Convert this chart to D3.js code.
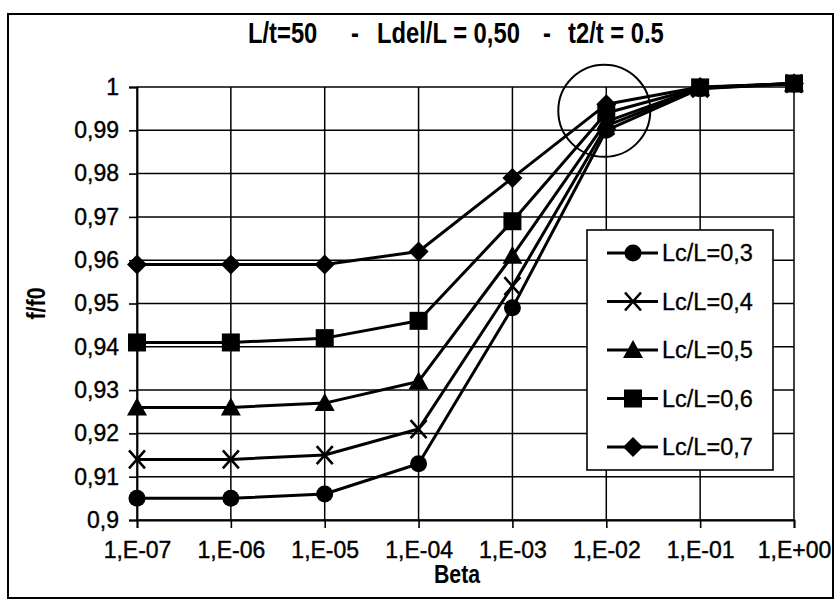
<!DOCTYPE html>
<html>
<head>
<meta charset="utf-8">
<script src="https://cdn.jsdelivr.net/npm/d3@7"></script>
<style>
  html, body { margin: 0; padding: 0; background: #fff; }
  svg { display: block; font-family: "Liberation Sans", Arial, sans-serif; }
</style>
</head>
<body>
<svg id="chart" width="836" height="604"></svg>
<script>
// ---- data ----
const betas = [1e-7, 1e-6, 1e-5, 1e-4, 1e-3, 1e-2, 1e-1, 1e0];
const xTickLabels = ["1,E-07", "1,E-06", "1,E-05", "1,E-04", "1,E-03", "1,E-02", "1,E-01", "1,E+00"];
const yTicks = [0.9, 0.91, 0.92, 0.93, 0.94, 0.95, 0.96, 0.97, 0.98, 0.99, 1];
const yTickLabels = ["0,9", "0,91", "0,92", "0,93", "0,94", "0,95", "0,96", "0,97", "0,98", "0,99", "1"];
const seriesNames = ["Lc/L=0,3", "Lc/L=0,4", "Lc/L=0,5", "Lc/L=0,6", "Lc/L=0,7"];
const seriesMarkers = ["circle", "cross", "triangle", "square", "diamond"];
const lc03 = [0.905, 0.905, 0.906, 0.913, 0.949, 0.990, 0.9996, 1.0008];
const lc04 = [0.914, 0.914, 0.915, 0.921, 0.954, 0.991, 0.9997, 1.0008];
const lc05 = [0.926, 0.926, 0.927, 0.932, 0.961, 0.992, 0.9998, 1.0008];
const lc06 = [0.941, 0.941, 0.942, 0.946, 0.969, 0.994, 0.9999, 1.0008];
const lc07 = [0.959, 0.959, 0.959, 0.962, 0.979, 0.996, 1.0000, 1.0008];
const seriesValues = [lc03, lc04, lc05, lc06, lc07];
const titleParts = ["L/t=50", "-", "Ldel/L = 0,50", "-", "t2/t = 0.5"];
const xTitle = "Beta";
const yTitle = "f/f0";
// highlighted region (circle annotation) in data units
const highlightBeta = 1e-2;
const highlightF = 0.9945;

// ---- layout ----
const svg = d3.select("#chart");
const pLeft = 137, pRight = 794, pTop = 87, pBottom = 520;
const x = d3.scaleLog().domain([1e-7, 1]).range([pLeft, pRight]);
const y = d3.scaleLinear().domain([0.9, 1]).range([pBottom, pTop]);
const narrow = 0.82; // condensed (Arial Narrow-like) headings

// outer frame
svg.append("rect").attr("x", 8).attr("y", 14).attr("width", 825).attr("height", 584)
  .attr("fill", "none").attr("stroke", "#000").attr("stroke-width", 2);

// title
const titleX = [248, 355, 377, 547, 568];
const titleAnchor = ["start", "middle", "start", "middle", "start"];
svg.append("g").selectAll("text").data(titleParts).join("text")
  .attr("transform", (d, i) => `translate(${titleX[i]},43) scale(${narrow},1)`)
  .attr("text-anchor", (d, i) => titleAnchor[i])
  .attr("font-size", 29).attr("font-weight", "bold")
  .text(d => d);

// gridlines
const grid = svg.append("g").attr("stroke", "#000").attr("stroke-width", 1.5);
grid.selectAll("line.h").data(yTicks).join("line").attr("class", "h")
  .attr("x1", pLeft).attr("x2", pRight).attr("y1", d => y(d)).attr("y2", d => y(d));
grid.selectAll("line.v").data(betas).join("line").attr("class", "v")
  .attr("x1", d => x(d)).attr("x2", d => x(d)).attr("y1", pTop).attr("y2", pBottom);

// axes
const yAxis = d3.axisLeft(y).tickValues(yTicks).tickSize(8).tickPadding(10)
  .tickFormat((d, i) => yTickLabels[i]);
const gy = svg.append("g").attr("transform", `translate(${pLeft},0)`).call(yAxis);
const xAxis = d3.axisBottom(x).tickValues(betas).tickSize(8).tickPadding(14)
  .tickFormat((d, i) => xTickLabels[i]);
const gx = svg.append("g").attr("transform", `translate(0,${pBottom})`).call(xAxis);
[gx, gy].forEach(g => {
  g.select(".domain").attr("stroke", "#000").attr("stroke-width", 1.8);
  g.selectAll(".tick line").attr("stroke", "#000").attr("stroke-width", 1.6);
  g.selectAll(".tick text").attr("font-size", 23).attr("fill", "#000")
    .attr("stroke", "#000").attr("stroke-width", 0.4)
    .attr("font-family", "Liberation Sans, Arial, sans-serif");
});

// axis titles
svg.append("text").attr("transform", `translate(457,583) scale(${narrow},1)`).attr("text-anchor", "middle")
  .attr("font-size", 26).attr("font-weight", "bold").text(xTitle);
svg.append("text").attr("transform", `translate(45,${(pTop + pBottom) / 2}) rotate(-90) scale(${narrow},1)`)
  .attr("text-anchor", "middle").attr("font-size", 26).attr("font-weight", "bold").text(yTitle);

// marker drawing
function drawMarker(g, type, cx, cy) {
  if (type === "circle") {
    g.append("circle").attr("cx", cx).attr("cy", cy).attr("r", 8.5).attr("fill", "#000");
  } else if (type === "square") {
    g.append("rect").attr("x", cx - 9).attr("y", cy - 9).attr("width", 18).attr("height", 18).attr("fill", "#000");
  } else if (type === "triangle") {
    g.append("path").attr("d", `M${cx},${cy - 10}L${cx + 10},${cy + 8}L${cx - 10},${cy + 8}Z`).attr("fill", "#000");
  } else if (type === "diamond") {
    g.append("path").attr("d", `M${cx},${cy - 10}L${cx + 10},${cy}L${cx},${cy + 10}L${cx - 10},${cy}Z`).attr("fill", "#000");
  } else if (type === "cross") {
    g.append("path").attr("d", `M${cx - 8},${cy - 9}L${cx + 8},${cy + 9}M${cx + 8},${cy - 9}L${cx - 8},${cy + 9}`)
      .attr("stroke", "#000").attr("stroke-width", 2.6).attr("fill", "none");
  }
}

// series
const line = d3.line().x((d, i) => x(betas[i])).y(d => y(d));
seriesValues.forEach((vals, si) => {
  const g = svg.append("g");
  g.append("path").attr("d", line(vals)).attr("fill", "none")
    .attr("stroke", "#000").attr("stroke-width", 3).attr("stroke-linejoin", "round");
  vals.forEach((v, i) => drawMarker(g, seriesMarkers[si], x(betas[i]), y(v)));
});

// highlight circle
svg.append("circle").attr("cx", x(highlightBeta) - 2).attr("cy", y(highlightF))
  .attr("r", 46).attr("fill", "none").attr("stroke", "#000").attr("stroke-width", 2);

// legend
const lg = svg.append("g");
lg.append("rect").attr("x", 587).attr("y", 230).attr("width", 186).attr("height", 240)
  .attr("fill", "#fff").attr("stroke", "#000").attr("stroke-width", 1.6);
seriesNames.forEach((name, i) => {
  const ly = 253 + i * 48.5;
  lg.append("line").attr("x1", 607).attr("x2", 658).attr("y1", ly).attr("y2", ly)
    .attr("stroke", "#000").attr("stroke-width", 3);
  drawMarker(lg, seriesMarkers[i], 633, ly);
  lg.append("text").attr("x", 662).attr("y", ly + 8).attr("font-size", 23.5)
    .attr("stroke", "#000").attr("stroke-width", 0.3).text(name);
});
</script>
</body>
</html>
